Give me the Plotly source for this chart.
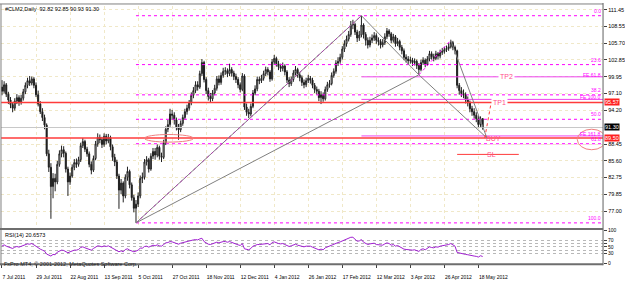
import plotly.graph_objects as go

# ---------------- data ----------------
tick_dates = ["7 Jul 2011", "29 Jul 2011", "22 Aug 2011", "13 Sep 2011", "5 Oct 2011",
              "27 Oct 2011", "18 Nov 2011", "12 Dec 2011", "4 Jan 2012", "26 Jan 2012",
              "17 Feb 2012", "12 Mar 2012", "3 Apr 2012", "26 Apr 2012", "18 May 2012"]
tick_bars = [0, 16, 32, 48, 64, 80, 96, 112, 128, 144, 160, 176, 192, 208, 224]

opens = [98.2,97.5,98.6,97.0,96.0,95.2,94.6,95.8,96.4,95.6,
 96.3,97.4,98.5,99.3,98.9,99.6,98.5,96.9,95.3,94.0,
 93.0,91.7,86.8,84.5,81.2,82.6,82.0,85.0,86.8,87.5,
 86.9,84.2,82.0,83.0,84.5,85.3,85.0,85.8,88.2,88.9,
 87.6,86.8,85.0,84.0,86.0,88.5,89.6,89.2,88.4,89.8,
 89.0,89.6,88.0,86.2,85.4,83.0,80.6,81.8,79.6,82.8,
 83.8,81.5,79.3,77.5,78.2,79.6,82.6,82.8,85.4,85.8,
 84.2,86.4,87.2,86.6,87.9,86.4,86.2,88.7,91.0,91.8,
 93.6,93.4,92.6,91.4,90.9,92.0,93.0,94.0,94.6,95.5,
 96.8,97.6,98.6,98.2,100.5,102.4,99.5,97.6,96.6,96.2,
 97.2,98.0,99.6,99.0,100.2,100.9,101.0,100.5,101.2,100.6,
 100.0,99.5,98.6,97.8,100.1,94.8,93.9,93.6,94.9,97.2,
 97.9,99.5,99.3,99.7,100.5,101.2,100.8,99.6,102.5,103.1,
 102.2,101.7,101.4,101.8,100.8,99.4,98.8,99.5,100.6,101.2,
 100.3,99.8,99.0,98.6,99.3,99.7,99.4,98.5,97.8,97.5,
 96.4,96.9,96.2,97.8,98.6,98.8,100.2,100.9,102.3,102.6,
 103.3,104.7,105.6,106.4,107.2,108.8,108.9,107.6,106.6,107.1,
 108.8,107.2,106.2,105.4,106.2,106.6,107.0,106.2,106.0,105.4,
 105.8,106.8,107.8,107.3,106.2,106.8,105.6,106.0,105.0,104.4,
 103.3,103.0,102.7,102.8,102.4,102.6,101.9,101.2,102.4,102.8,
 102.1,103.0,103.9,103.4,103.1,103.9,103.5,104.1,104.3,104.6,
 104.8,105.1,105.8,105.0,104.4,98.5,97.6,97.1,96.9,96.0,
 95.5,94.5,94.0,93.4,92.8,91.8,92.82]

highs = [99.4,99.2,98.9,97.4,96.5,95.6,96.3,97.0,96.8,96.9,
 97.9,99.0,99.8,100.1,100.0,99.9,99.0,97.6,95.8,94.6,
 93.5,92.0,87.5,85.2,83.5,83.4,85.6,87.4,88.2,88.1,
 87.2,84.6,83.6,85.0,85.9,86.0,86.3,88.7,89.5,89.2,
 88.0,87.2,85.5,86.5,89.0,90.3,90.1,89.7,90.3,90.2,
 90.2,89.9,88.4,86.8,85.8,83.4,82.5,82.1,83.3,84.6,
 84.1,81.9,79.8,78.9,80.2,83.1,83.6,85.9,86.4,86.1,
 86.9,87.8,87.8,88.4,88.2,87.0,89.2,91.5,92.6,94.5,
 94.3,93.9,93.0,91.9,92.5,93.5,94.5,95.2,96.0,97.3,
 98.2,99.2,99.2,101.0,103.0,102.7,99.9,98.1,97.2,97.7,
 98.6,100.1,100.2,100.7,101.5,101.6,101.4,102.2,101.6,101.0,
 100.5,99.9,99.0,100.6,100.4,95.4,94.5,95.4,97.7,98.5,
 100.0,100.0,100.3,101.0,101.7,101.6,101.1,103.0,103.7,103.4,
 102.7,102.2,102.4,102.1,101.1,99.9,100.0,101.1,101.8,101.5,
 100.8,100.2,99.5,99.8,100.3,100.1,99.8,98.9,98.3,97.9,
 97.5,97.3,98.3,99.1,99.4,100.7,101.4,102.8,103.3,103.9,
 105.2,106.2,107.0,107.8,109.5,109.7,109.2,108.0,107.8,110.4,
 109.1,107.6,106.7,106.8,107.2,107.6,107.4,106.7,106.4,106.4,
 107.4,108.3,108.1,107.6,107.3,107.1,106.6,106.3,105.4,104.8,
 103.8,103.5,103.4,103.2,103.1,102.9,102.3,102.9,103.3,103.1,
 103.5,104.4,104.3,103.9,104.4,104.2,104.6,104.9,105.1,105.3,
 105.7,106.3,106.1,105.3,104.6,98.9,98.2,97.8,97.3,96.6,
 95.9,95.0,94.6,93.9,93.3,93.2,92.85]

lows = [96.8,97.1,96.5,95.3,94.6,93.9,94.2,95.3,95.0,95.2,
 95.9,97.0,98.0,98.4,98.5,98.0,96.5,94.9,93.6,92.4,
 91.0,86.4,83.7,75.7,79.2,80.4,81.6,84.6,86.2,86.2,
 83.6,79.6,81.5,82.7,84.0,84.4,84.6,85.4,87.8,87.1,
 86.3,84.5,83.3,83.7,85.7,88.0,88.6,87.8,88.0,88.4,
 88.6,87.4,85.6,84.7,82.5,77.4,79.9,78.5,79.2,82.2,
 80.9,78.8,76.8,75.0,77.7,79.2,81.8,82.4,84.8,83.6,
 83.9,85.9,85.8,86.2,85.8,85.4,85.9,88.3,90.5,91.4,
 92.6,91.8,90.8,89.2,90.5,91.6,92.6,93.5,94.2,95.1,
 96.3,97.2,97.6,97.9,100.1,99.0,97.0,95.9,95.6,95.8,
 96.8,97.6,98.5,98.6,99.8,100.3,99.9,100.1,100.0,99.4,
 98.9,98.0,97.3,97.5,94.3,93.3,92.9,93.2,94.6,96.8,
 97.5,98.7,98.9,99.3,100.1,100.2,99.1,99.3,102.0,101.7,
 101.1,100.8,100.9,100.2,98.9,98.2,98.4,99.1,100.2,99.8,
 99.2,98.4,98.0,98.2,98.9,98.8,98.0,97.2,96.9,95.8,
 95.3,95.7,95.9,97.4,98.1,98.5,99.8,100.5,101.8,102.2,
 102.9,104.2,105.1,106.0,106.8,108.1,107.1,105.9,106.1,106.7,
 106.5,105.3,104.8,105.0,105.7,106.1,105.6,105.3,104.8,105.0,
 105.4,106.4,106.8,105.7,105.8,105.1,105.2,104.5,103.8,102.8,
 102.4,102.1,102.2,101.8,101.9,101.3,100.3,100.9,102.0,101.6,
 101.8,102.6,102.9,102.6,102.8,102.9,103.1,103.7,103.9,104.2,
 104.4,104.8,104.5,103.8,98.0,96.9,96.5,96.3,95.4,94.9,
 93.9,93.3,92.8,92.2,91.2,91.4,90.93]

closes = [97.5,98.6,97.0,96.0,95.2,94.6,95.8,96.4,95.6,96.3,
 97.4,98.5,99.3,98.9,99.6,98.5,96.9,95.3,94.0,93.0,
 91.7,86.8,84.5,81.2,82.6,82.0,85.0,86.8,87.5,86.9,
 84.2,82.0,83.0,84.5,85.3,85.0,85.8,88.2,88.9,87.6,
 86.8,85.0,84.0,86.0,88.5,89.6,89.2,88.4,89.8,89.0,
 89.6,88.0,86.2,85.4,83.0,80.6,81.8,79.6,82.8,83.8,
 81.5,79.3,77.5,78.2,79.6,82.6,82.8,85.4,85.8,84.2,
 86.4,87.2,86.6,87.9,86.4,86.2,88.7,91.0,91.8,93.6,
 93.4,92.6,91.4,90.9,92.0,93.0,94.0,94.6,95.5,96.8,
 97.6,98.6,98.2,100.5,102.4,99.5,97.6,96.6,96.2,97.2,
 98.0,99.6,99.0,100.2,100.9,101.0,100.5,101.2,100.6,100.0,
 99.5,98.6,97.8,100.1,94.8,93.9,93.6,94.9,97.2,97.9,
 99.5,99.3,99.7,100.5,101.2,100.8,99.6,102.5,103.1,102.2,
 101.7,101.4,101.8,100.8,99.4,98.8,99.5,100.6,101.2,100.3,
 99.8,99.0,98.6,99.3,99.7,99.4,98.5,97.8,97.5,96.4,
 96.9,96.2,97.8,98.6,98.8,100.2,100.9,102.3,102.6,103.3,
 104.7,105.6,106.4,107.2,108.8,108.9,107.6,106.6,107.1,108.8,
 107.2,106.2,105.4,106.2,106.6,107.0,106.2,106.0,105.4,105.8,
 106.8,107.8,107.3,106.2,106.8,105.6,106.0,105.0,104.4,103.3,
 103.0,102.7,102.8,102.4,102.6,101.9,101.2,102.4,102.8,102.1,
 103.0,103.9,103.4,103.1,103.9,103.5,104.1,104.3,104.6,104.8,
 105.1,105.8,105.0,104.4,98.5,97.6,97.1,96.9,96.0,95.5,
 94.5,94.0,93.4,92.8,91.8,92.8,91.30]

rsi = [52,56,52,49,47,45,49,51,49,51,
 54,57,59,58,60,56,51,46,43,40,
 37,28,25,22,27,26,34,38,40,39,
 35,32,35,38,40,40,42,48,50,47,
 45,42,40,45,50,53,52,50,53,51,
 53,49,45,43,39,35,38,35,42,44,
 40,37,35,37,40,46,46,51,52,49,
 53,55,53,56,53,52,57,62,63,66,
 65,63,60,58,61,63,65,66,68,70,
 71,72,71,74,76,66,61,58,57,60,
 61,64,62,65,66,66,64,66,63,61,
 59,56,54,60,44,42,41,45,52,54,
 57,57,58,59,61,60,56,63,65,62,
 60,59,60,57,53,51,53,56,58,55,
 53,51,50,52,53,52,49,46,45,41,
 43,41,47,50,51,56,58,62,63,65,
 68,71,73,75,79,79,72,67,68,72,
 64,60,57,59,60,61,57,56,54,55,
 59,62,60,55,57,52,54,50,47,43,
 42,41,42,40,41,39,36,42,44,41,
 46,50,48,47,50,49,52,53,54,55,
 57,60,55,52,33,31,30,29,27,26,
 24,23,22,21,19,23,20.6573]

price_ticks = [111.45, 108.55, 105.70, 102.85, 99.95, 97.10, 94.20,
               88.45, 85.60, 82.75, 79.85, 77.00, 74.10]
rsi_ticks = [0, 30, 40, 50, 60, 70, 100]
rsi_tick_text = ["0", "30", "", "50", "", "70", "100"]

fib_levels = [0.0, 23.6, 38.2, 50.0, 61.8, 100.0]
fe_levels = [61.8, 100.0, 161.8]

# harmonic pattern pivots (bar index, price)
X_bar, X_price = 63, 75.0
A_bar, A_price = 169, 110.4
B_bar, B_price = 196, 100.3
C_bar, C_price = 211, 106.2
D_bar, D_price = 228, 89.5

tp1_price = 95.57
buy_price = 89.50
last_price = 91.30
sl_price = 86.7
sl_bars = [214, 243]
tp2_price = 99.95

# ---------------- geometry ----------------
W, H = 625, 281
def py(px):
    return 1 - px / H

x_dom = [1 / W, 604 / W]
x_range = [-0.47, 282.6]
main_range = [74.11, 112.07]

MAG = "#FF00FF"
RED = "#FF3B3B"
PINK = "#FF4F8A"
FONT = "Liberation Sans"
FS = 5.5

idx = list(range(len(closes)))

fig = go.Figure()

fig.add_trace(go.Candlestick(
    x=idx, open=opens, high=highs, low=lows, close=closes,
    increasing=dict(line=dict(color="#202020", width=1), fillcolor="#FFFFFF"),
    decreasing=dict(line=dict(color="#202020", width=1), fillcolor="#000000"),
    whiskerwidth=0, xaxis="x", yaxis="y", showlegend=False, hoverinfo="skip"))

def line(xs, ys, color, width=1, dash="solid"):
    fig.add_trace(go.Scatter(x=xs, y=ys, mode="lines", xaxis="x", yaxis="y",
                             line=dict(color=color, width=width, dash=dash),
                             showlegend=False, hoverinfo="skip", cliponaxis=True))

# horizontal full-width lines
line(x_range, [last_price, last_price], "#C8C8C8", 1)
line(x_range, [tp1_price, tp1_price], RED, 1.6)
line(x_range, [buy_price, buy_price], RED, 1.6)

# fibonacci retracement
fib_prices = [A_price - (A_price - X_price) * l / 100 for l in fib_levels]
for p in fib_prices:
    line([X_bar, x_range[1]], [p, p], MAG, 1, "dot")

# fibonacci expansion
fe_prices = [C_price - (A_price - B_price) * l / 100 for l in fe_levels]
for p in fe_prices:
    line([A_bar, x_range[1]], [p, p], "#EE44EE", 1)

# pattern lines
line([X_bar, A_bar], [X_price, A_price], "#808080", 1)
line([X_bar, A_bar], [X_price, A_price], "#B040B0", 1, "dot")
line([X_bar, B_bar], [X_price, B_price], "#808080", 1)
line([A_bar, B_bar], [A_price, B_price], "#808080", 1)
line([B_bar, D_bar], [B_price, D_price], "#808080", 1)
line([C_bar, D_bar], [C_price, D_price], "#808080", 1)
line([B_bar, C_bar], [B_price, C_price], MAG, 1, "dot")
line([D_bar - 1, D_bar + 2], [D_price, tp1_price], RED, 1, "dot")
line(sl_bars, [sl_price, sl_price], RED, 1)

# RSI
fig.add_trace(go.Scatter(x=idx, y=rsi, mode="lines", xaxis="x2", yaxis="y2",
                         line=dict(color="#A020D0", width=1),
                         showlegend=False, hoverinfo="skip"))

shapes = []
# ellipses
shapes.append(dict(type="circle", xref="x", yref="y", x0=67, x1=90, y0=88.8, y1=90.1,
                   line=dict(color="#F08080", width=1)))
shapes.append(dict(type="circle", xref="x", yref="y", x0=270.5, x1=284, y0=87.5, y1=91.0,
                   line=dict(color="#F08080", width=1)))
# frame
GR = "#808080"
shapes += [
    dict(type="line", xref="paper", yref="paper", x0=0, x1=604 / W, y0=py(1), y1=py(1),
         line=dict(color=GR, width=1)),
    dict(type="line", xref="paper", yref="paper", x0=1 / W, x1=1 / W, y0=py(268), y1=py(1),
         line=dict(color=GR, width=1)),
    dict(type="line", xref="paper", yref="paper", x0=604 / W, x1=604 / W, y0=py(268), y1=py(0),
         line=dict(color="#606060", width=1)),
    dict(type="line", xref="paper", yref="paper", x0=0, x1=604 / W, y0=py(231), y1=py(231),
         line=dict(color="#6E6E6E", width=2)),
    dict(type="line", xref="paper", yref="paper", x0=0, x1=604 / W, y0=py(267), y1=py(267),
         line=dict(color="#6E6E6E", width=2)),
]

ann = []
tf = dict(family=FONT, size=FS, color="#000000")
ann.append(dict(text="#CLM2,Daily  92.82 92.85 90.93 91.30", xref="paper", yref="paper",
                x=3 / W, y=py(6), xanchor="left", yanchor="middle", showarrow=False, font=tf))
ann.append(dict(text="RSI(14) 20.6573", xref="paper", yref="paper",
                x=3 / W, y=py(237), xanchor="left", yanchor="middle", showarrow=False, font=tf))
ann.append(dict(text="FxPro MT4, © 2001-2012, MetaQuotes Software Corp.", xref="paper", yref="paper",
                x=3 / W, y=py(266.5), xanchor="left", yanchor="middle", showarrow=False,
                font=dict(family=FONT, size=FS, color="#202020"), borderpad=0))

fib_names = ["0.0", "23.6", "38.2", "50.0", "61.8", "100.0"]
for name, p in zip(fib_names, fib_prices):
    ann.append(dict(text=name, xref="paper", yref="y", x=603 / W, y=p, xanchor="right",
                    yanchor="bottom", showarrow=False, font=dict(family=FONT, size=5, color=MAG),
                    yshift=1, borderpad=0))
for l, p in zip(fe_levels, fe_prices):
    ann.append(dict(text="FE %.1f" % l, xref="paper", yref="y", x=603 / W, y=p, xanchor="right",
                    yanchor="bottom", showarrow=False, font=dict(family=FONT, size=5, color=MAG),
                    yshift=-2, borderpad=0))

pf = dict(family=FONT, size=7, color=PINK)
ann.append(dict(text="TP2", xref="x", yref="y", x=237, y=tp2_price, showarrow=False, font=pf,
                bgcolor="#FFFFFF"))
ann.append(dict(text="TP1", xref="x", yref="y", x=234, y=tp1_price, showarrow=False, font=pf,
                bgcolor="#FFFFFF"))
ann.append(dict(text="BUY", xref="x", yref="y", x=231, y=buy_price, showarrow=False, font=pf))
ann.append(dict(text="SL", xref="x", yref="y", x=230, y=sl_price, showarrow=False, font=pf))

# price boxes on the axis
for txt, p, bg in [("%.2f" % tp1_price, tp1_price, "#FF2020"),
                   ("%.2f" % last_price, last_price, "#000000"),
                   ("%.2f" % buy_price, buy_price, "#FF2020")]:
    ann.append(dict(text=txt, xref="paper", yref="y", x=605 / W, y=p, xanchor="left",
                    yanchor="middle", showarrow=False, bgcolor=bg, borderpad=0,
                    font=dict(family=FONT, size=FS, color="#FFFFFF")))

fig.update_layout(
    width=W, height=H, margin=dict(l=0, r=0, t=0, b=0),
    paper_bgcolor="#FFFFFF", plot_bgcolor="#FFFFFF",
    showlegend=False,
    xaxis=dict(domain=x_dom, range=x_range, anchor="y", rangeslider=dict(visible=False),
               showticklabels=False, ticks="", showgrid=True, gridcolor="#F0E8C8",
               griddash="dot", tickvals=tick_bars, zeroline=False, showline=False),
    xaxis2=dict(domain=x_dom, range=x_range, anchor="y2", matches="x",
                tickvals=tick_bars, ticktext=tick_dates, ticks="outside", ticklen=4,
                tickangle=0, tickcolor="#404040", ticklabelposition="outside right",
                ticklabelstandoff=9,
                tickfont=dict(family=FONT, size=5, color="#000000"),
                showgrid=False, zeroline=False, showline=False),
    yaxis=dict(domain=[py(230), py(3)], range=main_range, side="right", anchor="x",
               tickvals=price_ticks, ticktext=["%.2f" % v for v in price_ticks],
               ticks="outside", ticklen=3, tickcolor="#404040",
               tickfont=dict(family=FONT, size=FS, color="#000000"),
               showgrid=True, gridcolor="#F0E8C8", griddash="dot", zeroline=False,
               showline=False),
    yaxis2=dict(domain=[py(266), py(232.3)], range=[0, 100], side="right", anchor="x2",
                tickvals=rsi_ticks, ticktext=rsi_tick_text,
                ticks="outside", ticklen=3, tickcolor="#404040",
                tickfont=dict(family=FONT, size=5, color="#000000"),
                showgrid=True, gridcolor="#B8B8B8", griddash="dot", zeroline=False,
                showline=False),
    shapes=shapes, annotations=ann,
)

fig.write_html("out.html")
